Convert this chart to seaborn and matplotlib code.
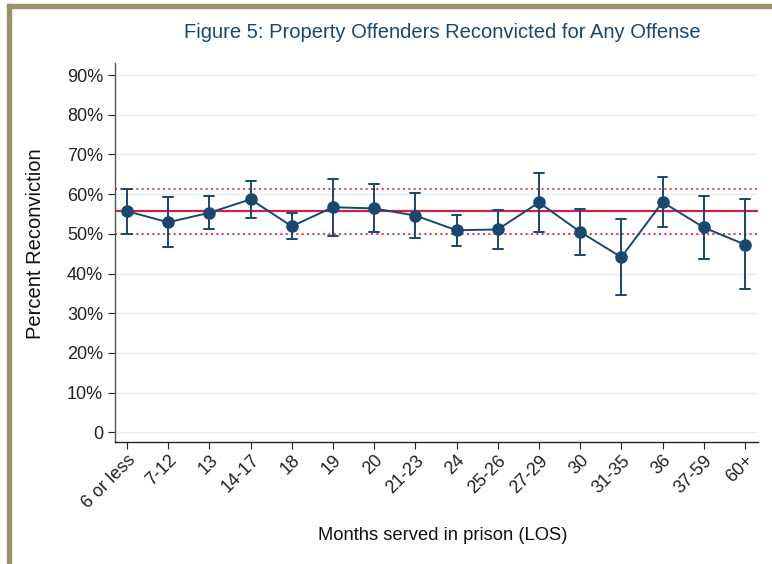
import numpy as np
import pandas as pd
import matplotlib
matplotlib.use("Agg")
import matplotlib.pyplot as plt
from matplotlib.patches import Rectangle
from matplotlib.ticker import FuncFormatter
import seaborn as sns

# data
categories = ['6 or less', '7-12', '13', '14-17', '18', '19', '20', '21-23',
              '24', '25-26', '27-29', '30', '31-35', '36', '37-59', '60+']
estimate = [55.7, 52.9, 55.3, 58.7, 51.9, 56.7, 56.4, 54.6,
            50.9, 51.1, 57.9, 50.5, 44.1, 58.0, 51.6, 47.3]
ci_low = [50.0, 46.6, 51.1, 54.0, 48.7, 49.5, 50.4, 48.9,
          46.9, 46.3, 50.4, 44.6, 34.6, 51.6, 43.7, 36.0]
ci_high = [61.3, 59.2, 59.5, 63.2, 55.3, 63.8, 62.5, 60.3,
           54.7, 55.9, 65.4, 56.3, 53.7, 64.3, 59.6, 58.7]
overall_mean = 55.8
overall_low = 50.0
overall_high = 61.3
y_ticks = [0, 10, 20, 30, 40, 50, 60, 70, 80, 90]

navy = '#1a476f'
red = '#c8234b'

sns.set_style('white')
plt.rcParams['font.family'] = ['Liberation Sans', 'DejaVu Sans']

# long table: low / estimate / high per category, median gives the estimate
rows = []
for c, lo, est, hi in zip(categories, ci_low, estimate, ci_high):
    for v in (lo, est, hi):
        rows.append({'los': c, 'pct': v})
df = pd.DataFrame(rows)

fig = plt.figure(figsize=(7.72, 5.64), dpi=100)
ax = fig.add_axes([0.149, 0.216, 0.833, 0.672])

for t in y_ticks:
    ax.axhline(t, color='#e6eef0', lw=1, zorder=0)

ax.axhline(overall_mean, color=red, lw=1.6, zorder=1)
ax.axhline(overall_low, color=red, lw=1.2, ls=(0, (1.2, 2.0)), zorder=1)
ax.axhline(overall_high, color=red, lw=1.2, ls=(0, (1.2, 2.0)), zorder=1)

sns.pointplot(data=df, x='los', y='pct', order=categories,
              estimator=np.median, errorbar=lambda x: (x.min(), x.max()),
              color=navy, markersize=8, linewidth=1.4, capsize=0.24,
              err_kws={'linewidth': 1.4}, ax=ax, zorder=3)

ax.set_ylim(-2.5, 93)
ax.set_xlim(-0.29, 15.32)
ax.set_yticks(y_ticks)
ax.yaxis.set_major_formatter(FuncFormatter(lambda v, p: '0' if v == 0 else f'{v:.0f}%'))
ax.set_xticks(range(len(categories)))
ax.set_xticklabels(categories, rotation=45, ha='right', rotation_mode='anchor')
ax.tick_params(axis='both', direction='out', length=5, width=0.8, colors='#222222',
               labelsize=13, left=True, bottom=True)
ax.tick_params(axis='x', pad=2)
ax.set_xlabel('')
ax.set_ylabel('')

sns.despine(ax=ax)
ax.spines['left'].set_color('#555555')
ax.spines['bottom'].set_color('#222222')
ax.spines['left'].set_linewidth(1)
ax.spines['bottom'].set_linewidth(1)

fig.text(442 / 772, 1 - 33 / 564, 'Figure 5: Property Offenders Reconvicted for Any Offense',
         ha='center', va='center', fontsize=14.5, color=navy)
fig.text(443 / 772, 1 - 536 / 564, 'Months served in prison (LOS)',
         ha='center', va='center', fontsize=13.2, color='#111111')
fig.text(36 / 772, 1 - 244 / 564, 'Percent Reconviction', rotation=90,
         ha='center', va='center', fontsize=14.5, color='#111111')

# olive frame on top and left
frame = '#9b9169'
fig.patches.append(Rectangle((7 / 772, 1 - 8 / 564), 1, 4 / 564, transform=fig.transFigure,
                             color=frame, zorder=0))
fig.patches.append(Rectangle((7 / 772, 0), 4 / 772, 1 - 4 / 564, transform=fig.transFigure,
                             color=frame, zorder=0))

fig.savefig('out.png', dpi=100)
